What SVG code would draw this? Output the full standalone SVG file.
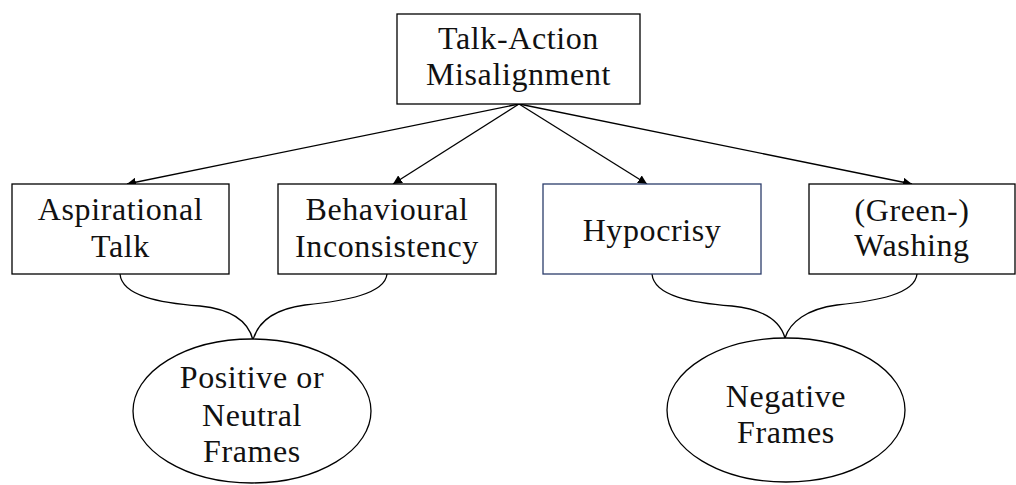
<svg xmlns="http://www.w3.org/2000/svg" width="1016" height="485" viewBox="0 0 1016 485">
<style>
  .box{fill:#fff;stroke:#000;stroke-width:1.3}
  .blue{stroke:#2b3d6b}
  .ell{fill:#fff;stroke:#000;stroke-width:1.3}
  .t{font-family:"Liberation Serif","Times New Roman",serif;font-size:32px;letter-spacing:0.6px;fill:#111;text-anchor:middle}
  .edge{fill:none;stroke:#000;stroke-width:1.3}
  .brace{fill:none;stroke:#000;stroke-width:1.3}
</style>
<defs>
  <marker id="arr" viewBox="0 0 10 10" refX="10" refY="5" markerWidth="9" markerHeight="9" markerUnits="userSpaceOnUse" orient="auto">
    <path d="M0,0 L10,5 L0,10 z" fill="#000"/>
  </marker>
</defs>
<rect width="1016" height="485" fill="#fff"/>
<g id="connectors">
  <line class="edge" x1="519" y1="104" x2="127" y2="184" marker-end="url(#arr)"/>
  <line class="edge" x1="519" y1="104" x2="393" y2="184" marker-end="url(#arr)"/>
  <line class="edge" x1="519" y1="104" x2="647" y2="184" marker-end="url(#arr)"/>
  <line class="edge" x1="519" y1="104" x2="912" y2="184" marker-end="url(#arr)"/>
  <path class="brace" d="M120,274 C122,296 160,303 200,306 C230,309 248,320 253,340"/>
  <path class="brace" d="M387,274 C385,294 345,301 305,305 C275,309 258,322 253,340"/>
  <path class="brace" d="M652,274 C654,296 692,303 732,306 C762,309 780,320 785,338"/>
  <path class="brace" d="M917,274 C915,294 877,301 837,305 C807,309 790,322 785,338"/>
</g>
<g id="n-top">
  <rect class="box" x="397" y="14" width="243" height="90"/>
  <text class="t" x="518.5" y="49">Talk-Action</text>
  <text class="t" x="518.5" y="85">Misalignment</text>
</g>
<g id="n-aspirational">
  <rect class="box" x="12" y="184" width="217" height="90"/>
  <text class="t" x="120.5" y="220">Aspirational</text>
  <text class="t" x="120.5" y="257">Talk</text>
</g>
<g id="n-behavioural">
  <rect class="box" x="278" y="184" width="218" height="90"/>
  <text class="t" x="387" y="220">Behavioural</text>
  <text class="t" x="387" y="257">Inconsistency</text>
</g>
<g id="n-hypocrisy">
  <rect class="box blue" x="543" y="184" width="218" height="90"/>
  <text class="t" x="652" y="241">Hypocrisy</text>
</g>
<g id="n-washing">
  <rect class="box" x="809" y="184" width="206" height="90"/>
  <text class="t" x="912" y="221">(Green-)</text>
  <text class="t" x="912" y="256">Washing</text>
</g>
<g id="n-positive">
  <ellipse class="ell" cx="252" cy="411" rx="119" ry="72"/>
  <text class="t" x="252" y="388">Positive or</text>
  <text class="t" x="252" y="426">Neutral</text>
  <text class="t" x="252" y="462">Frames</text>
</g>
<g id="n-negative">
  <ellipse class="ell" cx="786" cy="410" rx="119" ry="72"/>
  <text class="t" x="786" y="407">Negative</text>
  <text class="t" x="786" y="443">Frames</text>
</g>
</svg>
